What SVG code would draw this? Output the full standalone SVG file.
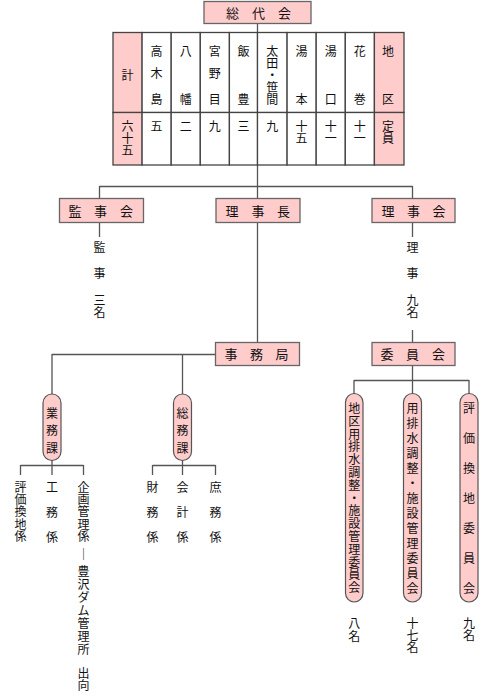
<svg xmlns="http://www.w3.org/2000/svg" width="500" height="700" viewBox="0 0 500 700">
<style>
text{font-family:"Noto Sans CJK JP","Noto Sans",sans-serif;font-size:12px;fill:#111;text-anchor:middle}
.bt{font-size:13px}
.box{fill:#ffcccc;stroke:#666;stroke-width:1.3}
.pill{fill:#ffcccc;stroke:#555;stroke-width:1.2}
.cell{fill:#fff;stroke:#444;stroke-width:1.3}
.pcell{fill:#ffcccc;stroke:#444;stroke-width:1.3}
.ln{stroke:#555;stroke-width:1.3;fill:none}
</style>
<rect width="500" height="700" fill="#fff"/>

<g id="connectors">
<path class="ln" d="M257.5 23V32M257.5 165V198M99.5 186.5H412.5M99.5 186V198M412.5 186V198M99.5 222V237M412.5 222V237M257.5 222V342M412.5 330V342"/>
<path class="ln" d="M215 354.5H52M52 354V395M182.5 354V395M52 460V465M182.5 460V465M20.5 465.5H83.5M152.5 465.5H215.5M20.5 465V475M52 465V475M83.5 465V475M152.5 465V475M182.5 465V475M215.5 465V475"/>
<path class="ln" d="M412.5 365V380M354 380.5H469M354 380V395M412.5 380V395M469 380V395"/>
</g>

<g id="sodaikai">
<rect class="box" x="204" y="1.5" width="107" height="22"/>
<text class="bt"><tspan x="232.5" y="17.5">総</tspan><tspan x="258.5" y="17.5">代</tspan><tspan x="284.5" y="17.5">会</tspan></text>
</g>

<g id="table">
<rect class="pcell" x="113" y="32.5" width="29.1" height="80"/>
<rect class="cell" x="142.1" y="32.5" width="29.1" height="80"/>
<rect class="cell" x="171.2" y="32.5" width="29.1" height="80"/>
<rect class="cell" x="200.3" y="32.5" width="29.1" height="80"/>
<rect class="cell" x="229.4" y="32.5" width="28.1" height="80"/>
<rect class="cell" x="257.5" y="32.5" width="29.6" height="80"/>
<rect class="cell" x="287.1" y="32.5" width="29.1" height="80"/>
<rect class="cell" x="316.2" y="32.5" width="29.1" height="80"/>
<rect class="cell" x="345.3" y="32.5" width="29.1" height="80"/>
<rect class="pcell" x="374.4" y="32.5" width="29.6" height="80"/>
<rect class="pcell" x="113" y="112.5" width="29.1" height="52.5"/>
<rect class="cell" x="142.1" y="112.5" width="29.1" height="52.5"/>
<rect class="cell" x="171.2" y="112.5" width="29.1" height="52.5"/>
<rect class="cell" x="200.3" y="112.5" width="29.1" height="52.5"/>
<rect class="cell" x="229.4" y="112.5" width="28.1" height="52.5"/>
<rect class="cell" x="257.5" y="112.5" width="29.6" height="52.5"/>
<rect class="cell" x="287.1" y="112.5" width="29.1" height="52.5"/>
<rect class="cell" x="316.2" y="112.5" width="29.1" height="52.5"/>
<rect class="cell" x="345.3" y="112.5" width="29.1" height="52.5"/>
<rect class="pcell" x="374.4" y="112.5" width="29.6" height="52.5"/>
<text x="127.5" y="80">計</text>
<text><tspan x="156.5" y="55.5">高</tspan><tspan x="156.5" y="78">木</tspan><tspan x="156.5" y="103.5">島</tspan></text>
<text><tspan x="185.7" y="55.5">八</tspan><tspan x="185.7" y="103.5">幡</tspan></text>
<text><tspan x="214.8" y="55.5">宮</tspan><tspan x="214.8" y="78">野</tspan><tspan x="214.8" y="103.5">目</tspan></text>
<text><tspan x="243.5" y="55.5">飯</tspan><tspan x="243.5" y="103.5">豊</tspan></text>
<text><tspan x="272.3" y="55.5">太</tspan><tspan x="272.3" y="67.5">田</tspan><tspan x="272.3" y="79.5">・</tspan><tspan x="272.3" y="91.5">笹</tspan><tspan x="272.3" y="104">間</tspan></text>
<text><tspan x="301.6" y="55.5">湯</tspan><tspan x="301.6" y="103.5">本</tspan></text>
<text><tspan x="330.7" y="55.5">湯</tspan><tspan x="330.7" y="103.5">口</tspan></text>
<text><tspan x="359.8" y="55.5">花</tspan><tspan x="359.8" y="103.5">巻</tspan></text>
<text><tspan x="388" y="55.5">地</tspan><tspan x="388" y="103.5">区</tspan></text>
<text><tspan x="127.5" y="131">六</tspan><tspan x="127.5" y="143">十</tspan><tspan x="127.5" y="155">五</tspan></text>
<text x="156.5" y="131">五</text>
<text x="185.7" y="131">二</text>
<text x="214.8" y="131">九</text>
<text x="243.5" y="131">三</text>
<text x="272.3" y="131">九</text>
<text><tspan x="301.6" y="131">十</tspan><tspan x="301.6" y="143">五</tspan></text>
<text><tspan x="330.7" y="131">十</tspan><tspan x="330.7" y="143">一</tspan></text>
<text><tspan x="359.8" y="131">十</tspan><tspan x="359.8" y="143">一</tspan></text>
<text><tspan x="388" y="131">定</tspan><tspan x="388" y="143">員</tspan></text>
</g>

<g id="kanjikai">
<rect class="box" x="59.5" y="198.5" width="84" height="24"/>
<text class="bt"><tspan x="75" y="215.5">監</tspan><tspan x="100.5" y="215.5">事</tspan><tspan x="126.5" y="215.5">会</tspan></text>
</g>
<g id="kanji-count">
<text><tspan x="99.5" y="252">監</tspan><tspan x="99.5" y="278">事</tspan><tspan x="99.5" y="305">三</tspan><tspan x="99.5" y="317">名</tspan></text>
</g>

<g id="rijicho">
<rect class="box" x="216" y="198.5" width="84" height="24"/>
<text class="bt"><tspan x="232" y="215.5">理</tspan><tspan x="258" y="215.5">事</tspan><tspan x="283.5" y="215.5">長</tspan></text>
</g>

<g id="rijikai">
<rect class="box" x="372" y="198.5" width="83" height="24"/>
<text class="bt"><tspan x="388" y="215.5">理</tspan><tspan x="413.5" y="215.5">事</tspan><tspan x="439" y="215.5">会</tspan></text>
</g>
<g id="riji-count">
<text><tspan x="412.5" y="251.5">理</tspan><tspan x="412.5" y="277.5">事</tspan><tspan x="412.5" y="305">九</tspan><tspan x="412.5" y="317">名</tspan></text>
</g>

<g id="jimukyoku">
<rect class="box" x="215.5" y="342.5" width="84" height="23"/>
<text class="bt"><tspan x="231" y="358.5">事</tspan><tspan x="256.5" y="358.5">務</tspan><tspan x="282" y="358.5">局</tspan></text>
</g>

<g id="iinkai">
<rect class="box" x="372" y="342.5" width="83" height="23"/>
<text class="bt"><tspan x="387" y="358.5">委</tspan><tspan x="412.5" y="358.5">員</tspan><tspan x="438.5" y="358.5">会</tspan></text>
</g>

<g id="gyomuka">
<rect class="pill" x="43" y="394" width="18" height="66.5" rx="9" ry="9"/>
<text><tspan x="52" y="417.5">業</tspan><tspan x="52" y="435">務</tspan><tspan x="52" y="452.5">課</tspan></text>
</g>

<g id="somuka">
<rect class="pill" x="173.5" y="394" width="18" height="66.5" rx="9" ry="9"/>
<text><tspan x="182.5" y="417.5">総</tspan><tspan x="182.5" y="435">務</tspan><tspan x="182.5" y="452.5">課</tspan></text>
</g>

<g id="hyoka-kakari">
<text><tspan x="20.5" y="492">評</tspan><tspan x="20.5" y="504.2">価</tspan><tspan x="20.5" y="516.4">換</tspan><tspan x="20.5" y="528.6">地</tspan><tspan x="20.5" y="540.8">係</tspan></text>
</g>
<g id="komu-kakari">
<text><tspan x="52" y="492">工</tspan><tspan x="52" y="517">務</tspan><tspan x="52" y="542">係</tspan></text>
</g>
<g id="kikaku-kakari">
<text><tspan x="83.5" y="492">企</tspan><tspan x="83.5" y="504.2">画</tspan><tspan x="83.5" y="516.4">管</tspan><tspan x="83.5" y="528.6">理</tspan><tspan x="83.5" y="540.8">係</tspan><tspan x="83.5" y="559">｜</tspan><tspan x="83.5" y="576">豊</tspan><tspan x="83.5" y="589">沢</tspan><tspan x="83.5" y="602">ダ</tspan><tspan x="83.5" y="615">ム</tspan><tspan x="83.5" y="628">管</tspan><tspan x="83.5" y="641">理</tspan><tspan x="83.5" y="654">所</tspan><tspan x="83.5" y="678">出</tspan><tspan x="83.5" y="690">向</tspan></text>
</g>
<g id="zaimu-kakari">
<text><tspan x="152.5" y="492">財</tspan><tspan x="152.5" y="517">務</tspan><tspan x="152.5" y="542">係</tspan></text>
</g>
<g id="kaikei-kakari">
<text><tspan x="182.5" y="492">会</tspan><tspan x="182.5" y="517">計</tspan><tspan x="182.5" y="542">係</tspan></text>
</g>
<g id="shomu-kakari">
<text><tspan x="215.5" y="492">庶</tspan><tspan x="215.5" y="517">務</tspan><tspan x="215.5" y="542">係</tspan></text>
</g>

<g id="chiku-iinkai">
<rect class="pill" x="345.5" y="393.5" width="17.5" height="208.5" rx="8.75" ry="9"/>
<text><tspan x="354.3" y="413">地</tspan><tspan x="354.3" y="425.8">区</tspan><tspan x="354.3" y="438.6">用</tspan><tspan x="354.3" y="451.4">排</tspan><tspan x="354.3" y="464.2">水</tspan><tspan x="354.3" y="477">調</tspan><tspan x="354.3" y="489.8">整</tspan><tspan x="354.3" y="502.6">・</tspan><tspan x="354.3" y="515.4">施</tspan><tspan x="354.3" y="528.2">設</tspan><tspan x="354.3" y="541">管</tspan><tspan x="354.3" y="553.8">理</tspan><tspan x="354.3" y="566.6">委</tspan><tspan x="354.3" y="579.4">員</tspan><tspan x="354.3" y="592.2">会</tspan></text>
<text><tspan x="354.3" y="628">八</tspan><tspan x="354.3" y="641">名</tspan></text>
</g>

<g id="youhaisui-iinkai">
<rect class="pill" x="403.5" y="393.5" width="18" height="208.5" rx="9" ry="9"/>
<text><tspan x="412.5" y="413">用</tspan><tspan x="412.5" y="428">排</tspan><tspan x="412.5" y="443">水</tspan><tspan x="412.5" y="458">調</tspan><tspan x="412.5" y="473">整</tspan><tspan x="412.5" y="488">・</tspan><tspan x="412.5" y="503">施</tspan><tspan x="412.5" y="518">設</tspan><tspan x="412.5" y="533">管</tspan><tspan x="412.5" y="548">理</tspan><tspan x="412.5" y="563">委</tspan><tspan x="412.5" y="578">員</tspan><tspan x="412.5" y="593">会</tspan></text>
<text><tspan x="412.5" y="628">十</tspan><tspan x="412.5" y="640">七</tspan><tspan x="412.5" y="652">名</tspan></text>
</g>

<g id="hyoka-iinkai">
<rect class="pill" x="460" y="393.5" width="18" height="208.5" rx="9" ry="9"/>
<text><tspan x="469" y="413">評</tspan><tspan x="469" y="443">価</tspan><tspan x="469" y="473">換</tspan><tspan x="469" y="503">地</tspan><tspan x="469" y="533">委</tspan><tspan x="469" y="563">員</tspan><tspan x="469" y="593">会</tspan></text>
<text><tspan x="469" y="628">九</tspan><tspan x="469" y="640">名</tspan></text>
</g>
</svg>
